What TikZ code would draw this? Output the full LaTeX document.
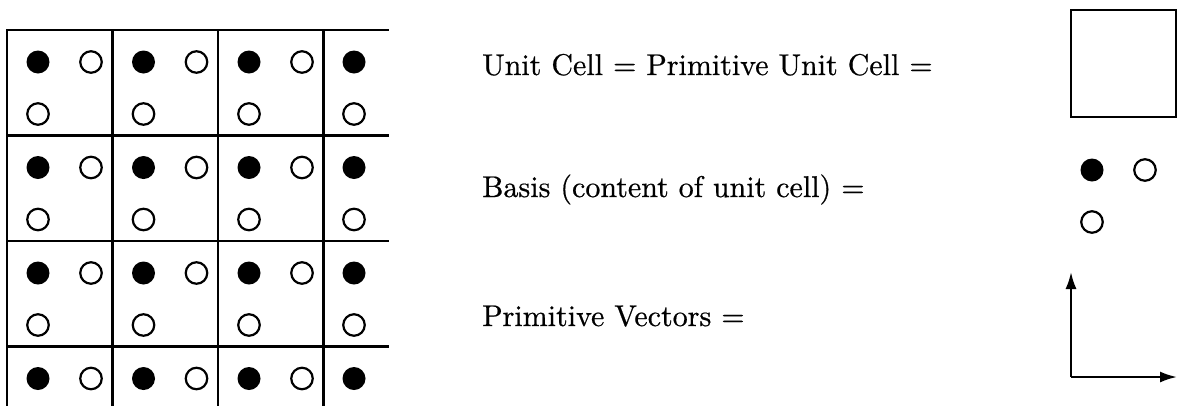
\documentclass[tikz,border=0pt]{standalone}
\usepackage{fontspec}
\newfontfamily\tenrm[FakeBold=0.6]{lmroman10-regular.otf}
\usetikzlibrary{arrows.meta}
\begin{document}
\begin{tikzpicture}[x=1pt,y=-1pt,
  gridline/.style={line width=2.2pt,line cap=rect},
  fullatom/.style={circle,fill=black,inner sep=0pt,minimum size=23pt},
  emptyatom/.style={circle,draw=black,line width=2.2pt,fill=white,inner sep=0pt,minimum size=21.5pt},
  label/.style={anchor=base west,inner sep=0pt,font=\tenrm\fontsize{30}{36}\selectfont},
  vec/.style={line width=2.2pt,-{Latex[length=17pt,width=11pt]}}]
\useasboundingbox (0,0) rectangle (1177,405);
% lattice grid
\foreach \yy in {30,135.5,241,346.5} \draw[gridline] (7,\yy) -- (388,\yy);
\foreach \xx in {7,112.5,218,323.5} \draw[gridline] (\xx,30) -- (\xx,405);
% atoms
\foreach \r in {0,1,2,3}{
  \foreach \c in {0,1,2}{
    \node[fullatom] (f\r\c) at ({7+105.5*\c+31},{30+105.5*\r+32}) {};
    \node[emptyatom] (a\r\c) at ({7+105.5*\c+84},{30+105.5*\r+32}) {};
    \ifnum\r<3
      \node[emptyatom] (b\r\c) at ({7+105.5*\c+31},{30+105.5*\r+84}) {};
    \fi
  }
  \node[fullatom] (f\r3) at (354,{30+105.5*\r+32}) {};
  \ifnum\r<3
    \node[emptyatom] (b\r3) at (354,{30+105.5*\r+84}) {};
  \fi
}
% labels
\node[label] (t1) at (482,75) {Unit Cell = Primitive Unit Cell =};
\node[label] (t2) at (482,197) {Basis (content of unit cell) =};
\node[label] (t3) at (482,326) {Primitive Vectors =};
% unit cell
\draw[gridline] (1071,10) rectangle (1176,117);
% basis
\node[fullatom] (bf) at (1092,170) {};
\node[emptyatom] (bo1) at (1145,170) {};
\node[emptyatom] (bo2) at (1092,222) {};
% primitive vectors
\coordinate (o) at (1071,377);
\coordinate (ay) at (1071,272);
\coordinate (ax) at (1177,377);
\draw[vec] (o) -- (ay);
\draw[vec] (o) -- (ax);
\end{tikzpicture}
\end{document}
